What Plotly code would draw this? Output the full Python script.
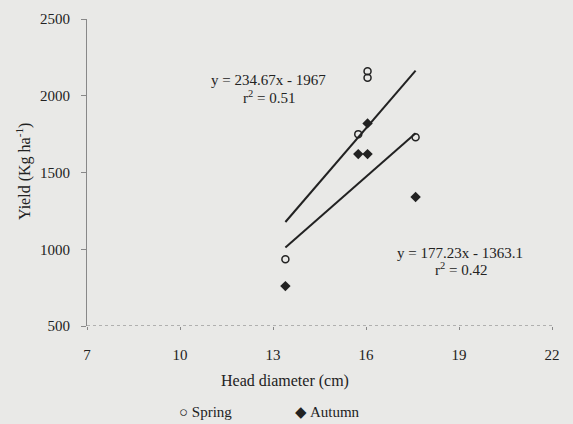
import plotly.graph_objects as go

# Data
spring_x = [13.4, 15.75, 16.05, 16.05, 17.6]
spring_y = [935, 1750, 2160, 2118, 1730]
autumn_x = [13.4, 15.75, 16.05, 16.05, 17.6]
autumn_y = [760, 1620, 1620, 1820, 1340]

fit_slopes = [234.67, 177.23]
fit_intercepts = [-1967.0, -1363.1]
fit_xrange = [13.4, 17.6]

x_ticks = [7, 10, 13, 16, 19, 22]
y_ticks = [500, 1000, 1500, 2000, 2500]

FONT = "Liberation Serif"
TXT = "#222222"
BG = "#e9e9e7"

fig = go.Figure()

for m, b in zip(fit_slopes, fit_intercepts):
    fig.add_trace(go.Scatter(
        x=fit_xrange, y=[m * v + b for v in fit_xrange], mode="lines",
        line=dict(color="#222222", width=2), showlegend=False, hoverinfo="skip"))

fig.add_trace(go.Scatter(
    x=spring_x, y=spring_y, mode="markers", name="Spring",
    marker=dict(symbol="circle-open", size=7, color="#222222", line=dict(width=1.5)),
    showlegend=False))
fig.add_trace(go.Scatter(
    x=autumn_x, y=autumn_y, mode="markers", name="Autumn",
    marker=dict(symbol="diamond", size=8, color="#222222"),
    showlegend=False))

# dotted x axis line
fig.add_shape(type="line", xref="x", yref="y", x0=x_ticks[0], x1=x_ticks[-1],
              y0=y_ticks[0], y1=y_ticks[0], line=dict(color="#777777", width=1, dash="dot"))

def px_x(p):
    return (p - 87) / 465

def px_y(p):
    return (326 - p) / 307

ann = [
    ("y = 234.67x - 1967", 268, 80, 15),
    ("r<sup>2</sup> = 0.51", 269, 97, 15),
    ("y = 177.23x - 1363.1", 460, 253, 15),
    ("r<sup>2</sup> = 0.42", 461, 269, 15),
    ("Head diameter (cm)", 285, 381, 16),
    ("○ Spring", 205, 412, 15),
    ("◆ Autumn", 327, 412, 15),
]
for t, x, y, s in ann:
    fig.add_annotation(text=t, x=px_x(x), y=px_y(y), xref="paper", yref="paper",
                       showarrow=False, xanchor="center", yanchor="middle",
                       font=dict(family=FONT, size=s, color=TXT))

fig.add_annotation(text="Yield (Kg ha<sup>-1</sup>)", x=px_x(23), y=px_y(172),
                   xref="paper", yref="paper", showarrow=False, textangle=-90,
                   xanchor="center", yanchor="middle",
                   font=dict(family=FONT, size=16, color=TXT))

fig.update_layout(
    width=573, height=424,
    margin=dict(l=87, r=21, t=19, b=98),
    paper_bgcolor=BG, plot_bgcolor=BG,
    font=dict(family=FONT, size=15, color=TXT),
    showlegend=False,
)
fig.update_xaxes(range=[x_ticks[0], x_ticks[-1]], tickvals=x_ticks, showgrid=False,
                 zeroline=False, showline=False, ticks="outside", ticklen=3,
                 tickcolor="#888888", ticklabelstandoff=12,
                 tickfont=dict(family=FONT, size=15, color=TXT))
fig.update_yaxes(range=[y_ticks[0], y_ticks[-1]], tickvals=y_ticks, showgrid=False,
                 zeroline=False, showline=True, linecolor="#888888", linewidth=1,
                 ticks="outside", ticklen=5, tickcolor="#888888", ticklabelstandoff=8,
                 tickfont=dict(family=FONT, size=15, color=TXT))

fig.write_html("out.html")
